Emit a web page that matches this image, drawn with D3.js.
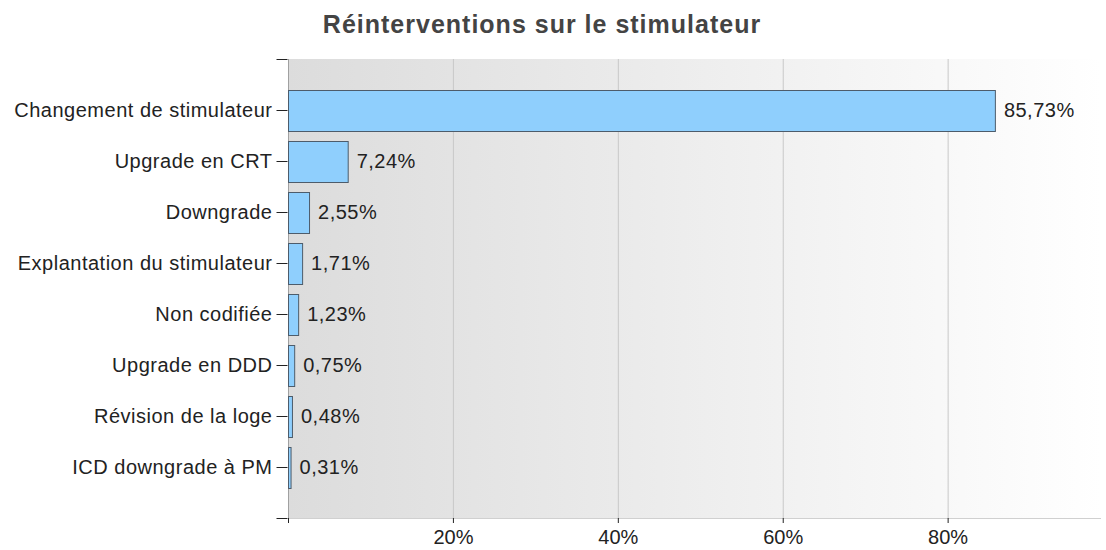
<!DOCTYPE html>
<html>
<head>
<meta charset="utf-8">
<script src="https://cdn.jsdelivr.net/npm/d3@7"></script>
<style>
  body { margin: 0; background: #fff; }
  svg text { font-family: "Liberation Sans", Arial, sans-serif; }
</style>
</head>
<body>
<svg></svg>
<script>
var width = 1106;
var height = 550;

var categories = ['Changement de stimulateur', 'Upgrade en CRT', 'Downgrade',
  'Explantation du stimulateur', 'Non codifiée', 'Upgrade en DDD',
  'Révision de la loge', 'ICD downgrade à PM'];
var values = [85.73, 7.24, 2.55, 1.71, 1.23, 0.75, 0.48, 0.31];
var xTicks = [20, 40, 60, 80];

var margin = {top: 59, right: 5, bottom: 32, left: 288};

var svg = d3.select('svg')
    .attr('width', width)
    .attr('height', height);

var x = d3.scaleLinear()
    .domain([0, 98.6])
    .range([margin.left, width - margin.right]);

var y = d3.scalePoint()
    .domain(categories)
    .range([margin.top, height - margin.bottom])
    .padding(1);

var barH = y.step() * 0.8;
var fmt = function(v) { return v.toFixed(2).replace('.', ',') + '%'; };

// background gradient
var grad = svg.append('defs').append('linearGradient')
    .attr('id', 'bg')
    .attr('x1', '0%').attr('x2', '100%').attr('y1', '0%').attr('y2', '0%');
grad.append('stop').attr('offset', '0%').attr('stop-color', '#dcdcdc');
grad.append('stop').attr('offset', '100%').attr('stop-color', '#ffffff');

svg.append('rect')
    .attr('x', margin.left)
    .attr('y', margin.top)
    .attr('width', width - margin.right - margin.left)
    .attr('height', height - margin.bottom - margin.top)
    .attr('fill', 'url(#bg)');

// grid
svg.append('g')
    .selectAll('line')
    .data(xTicks)
    .enter().append('line')
    .attr('x1', function(d) { return x(d) + 0.5; })
    .attr('x2', function(d) { return x(d) + 0.5; })
    .attr('y1', margin.top)
    .attr('y2', height - margin.bottom)
    .attr('stroke', '#c8c8c8');

svg.append('line')
    .attr('x1', margin.left).attr('x2', width - margin.right)
    .attr('y1', height - margin.bottom + 0.5).attr('y2', height - margin.bottom + 0.5)
    .attr('stroke', '#d0d0d0');
svg.append('line')
    .attr('x1', margin.left + 0.5).attr('x2', margin.left + 0.5)
    .attr('y1', margin.top).attr('y2', height - margin.bottom)
    .attr('stroke', '#a0a0a0');

// bars
svg.append('g')
    .selectAll('rect')
    .data(values)
    .enter().append('rect')
    .attr('x', x(0) + 0.5)
    .attr('y', function(d, i) { return Math.round(y(categories[i]) - barH / 2) + 0.5; })
    .attr('width', function(d) { return x(d) - x(0); })
    .attr('height', Math.round(barH))
    .attr('fill', '#8fcffd')
    .attr('stroke', '#4d5c6b');

// value labels
svg.append('g')
    .selectAll('text')
    .data(values)
    .enter().append('text')
    .attr('x', function(d) { return x(d) + 9; })
    .attr('y', function(d, i) { return y(categories[i]); })
    .attr('dy', '0.35em')
    .attr('font-size', 20)
    .attr('letter-spacing', 0.5)
    .attr('fill', '#222')
    .text(fmt);

// left axis
var yAxis = svg.append('g')
    .attr('transform', 'translate(' + (margin.left - 0.5) + ',0)')
    .call(d3.axisLeft(y).tickSize(11).tickPadding(4));
yAxis.select('.domain').remove();
yAxis.selectAll('text').attr('font-size', 20).attr('letter-spacing', 0.5).attr('fill', '#222');
yAxis.selectAll('line').attr('stroke', '#222');
[margin.top, height - margin.bottom].forEach(function(v) {
  yAxis.append('line')
    .attr('x1', -11).attr('x2', 0)
    .attr('y1', v + 0.5).attr('y2', v + 0.5)
    .attr('stroke', '#222');
});

// bottom axis
var xAxis = svg.append('g')
    .attr('transform', 'translate(0,' + (height - margin.bottom) + ')')
    .call(d3.axisBottom(x).tickValues([0].concat(xTicks)).tickSize(5).tickPadding(7)
      .tickFormat(function(d) { return d === 0 ? '' : d + '%'; }));
xAxis.select('.domain').remove();
xAxis.selectAll('text').attr('font-size', 20).attr('fill', '#222');
xAxis.selectAll('line').attr('stroke', '#222');

// title
svg.append('text')
    .attr('x', 542)
    .attr('y', 33)
    .attr('text-anchor', 'middle')
    .attr('font-size', 25)
    .attr('letter-spacing', 1)
    .attr('font-weight', 'bold')
    .attr('fill', '#444')
    .text('Réinterventions sur le stimulateur');
</script>
</body>
</html>
